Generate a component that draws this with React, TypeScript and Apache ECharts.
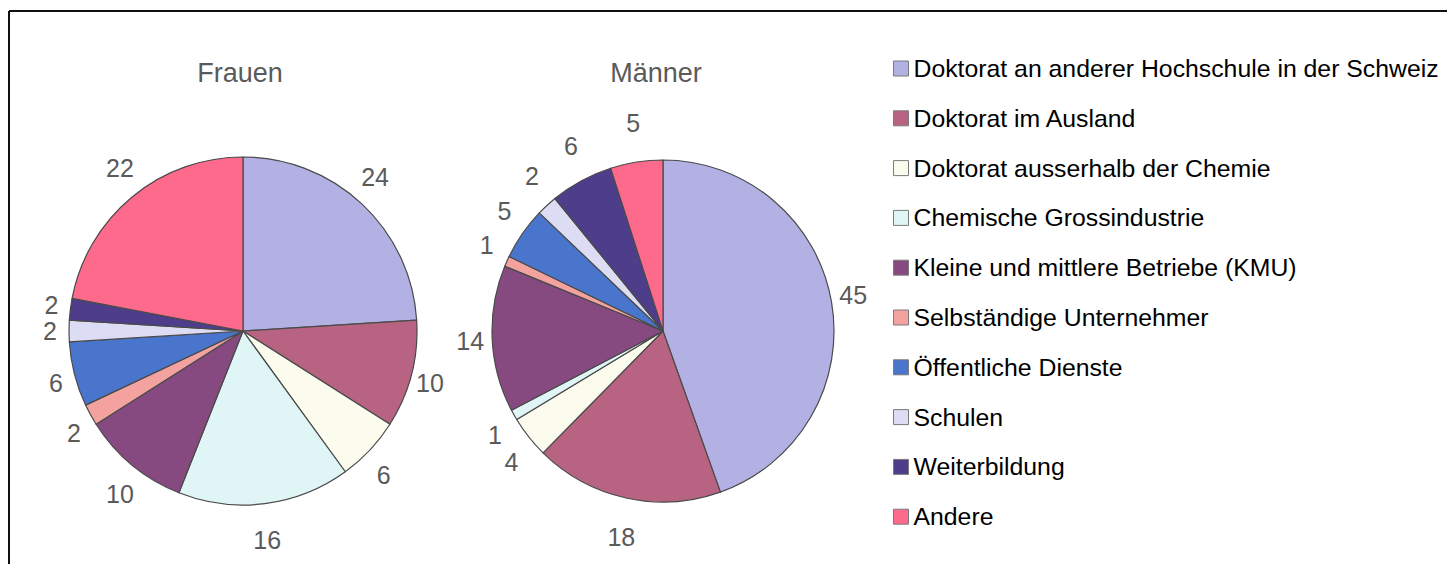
import React, { useEffect, useRef } from "react";
import * as echarts from "echarts";

const categories = [
  "Doktorat an anderer Hochschule in der Schweiz",
  "Doktorat im Ausland",
  "Doktorat ausserhalb der Chemie",
  "Chemische Grossindustrie",
  "Kleine und mittlere Betriebe (KMU)",
  "Selbständige Unternehmer",
  "Öffentliche Dienste",
  "Schulen",
  "Weiterbildung",
  "Andere",
];
const frauenValues = [24, 10, 6, 16, 10, 2, 6, 2, 2, 22];
const maennerValues = [45, 18, 4, 1, 14, 1, 5, 2, 6, 5];
const sliceColors = [
  "#b3b1e3",
  "#b86382",
  "#fcfcee",
  "#e0f6f6",
  "#874a80",
  "#f4a2a0",
  "#4976cc",
  "#dcdcf4",
  "#4e3d8a",
  "#fe6a8c",
];
const pieTitles = ["Frauen", "Männer"];

const FONT = '"Liberation Sans", Arial, sans-serif';
const centers = [
  [243, 331],
  [663, 331],
];
const titleX = [240, 656];
const radii = [174, 171];
const LABEL_RX = 193;
const LABEL_RY = 211;

function midAngles(values: number[]): number[] {
  const total = values.reduce((a, b) => a + b, 0);
  let acc = 0;
  return values.map((v) => {
    const m = ((acc + v / 2) / total) * Math.PI * 2;
    acc += v;
    return m;
  });
}

export default function App() {
  const ref = useRef<HTMLDivElement>(null);

  useEffect(() => {
    if (!ref.current) return;
    const chart = echarts.init(ref.current, undefined, { renderer: "svg" });
    const seriesValues = [frauenValues, maennerValues];
    const mids = seriesValues.map(midAngles);

    const series = seriesValues.map((vals, s) => ({
      type: "pie",
      name: pieTitles[s],
      center: centers[s],
      radius: radii[s],
      startAngle: 90,
      clockwise: true,
      avoidLabelOverlap: false,
      silent: true,
      data: vals.map((v, i) => ({ name: categories[i], value: v })),
      itemStyle: { borderColor: "#4a4a4a", borderWidth: 1.2 },
      label: {
        show: true,
        position: "outside",
        formatter: "{c}",
        color: "#5a5a5a",
        fontSize: 25,
        fontFamily: FONT,
      },
      labelLine: { show: false },
      labelLayout: (p: any) => {
        const a = mids[s][p.dataIndex];
        return {
          x: centers[s][0] + LABEL_RX * Math.sin(a),
          y: centers[s][1] - LABEL_RY * Math.cos(a),
          align: "center",
          verticalAlign: "middle",
        };
      },
    }));

    chart.setOption({
      animation: false,
      backgroundColor: "#ffffff",
      color: sliceColors,
      legend: {
        orient: "vertical",
        left: 893,
        top: 56,
        padding: 0,
        itemWidth: 15,
        itemHeight: 15,
        itemGap: 24.8,
        icon: "rect",
        selectedMode: false,
        data: categories,
        itemStyle: { borderColor: "#7a7a7a", borderWidth: 1 },
        textStyle: {
          fontSize: 24.8,
          lineHeight: 24,
          color: "#000000",
          fontFamily: FONT,
        },
      },
      graphic: [
        ...pieTitles.map((t, s) => ({
          type: "text",
          x: titleX[s],
          y: 73,
          style: {
            text: t,
            fill: "#5a5a5a",
            font: `27px ${FONT}`,
            align: "center",
            verticalAlign: "middle",
          },
        })),
        {
          type: "line",
          shape: { x1: 9, y1: 11, x2: 1447, y2: 11 },
          style: { stroke: "#111111", lineWidth: 2 },
        },
        {
          type: "line",
          shape: { x1: 9, y1: 11, x2: 9, y2: 564 },
          style: { stroke: "#111111", lineWidth: 2 },
        },
      ],
      series,
    });

    return () => chart.dispose();
  }, []);

  return (
    <div
      ref={ref}
      style={{
        position: "fixed",
        left: 0,
        top: 0,
        width: 1447,
        height: 564,
        background: "#fff",
      }}
    />
  );
}
